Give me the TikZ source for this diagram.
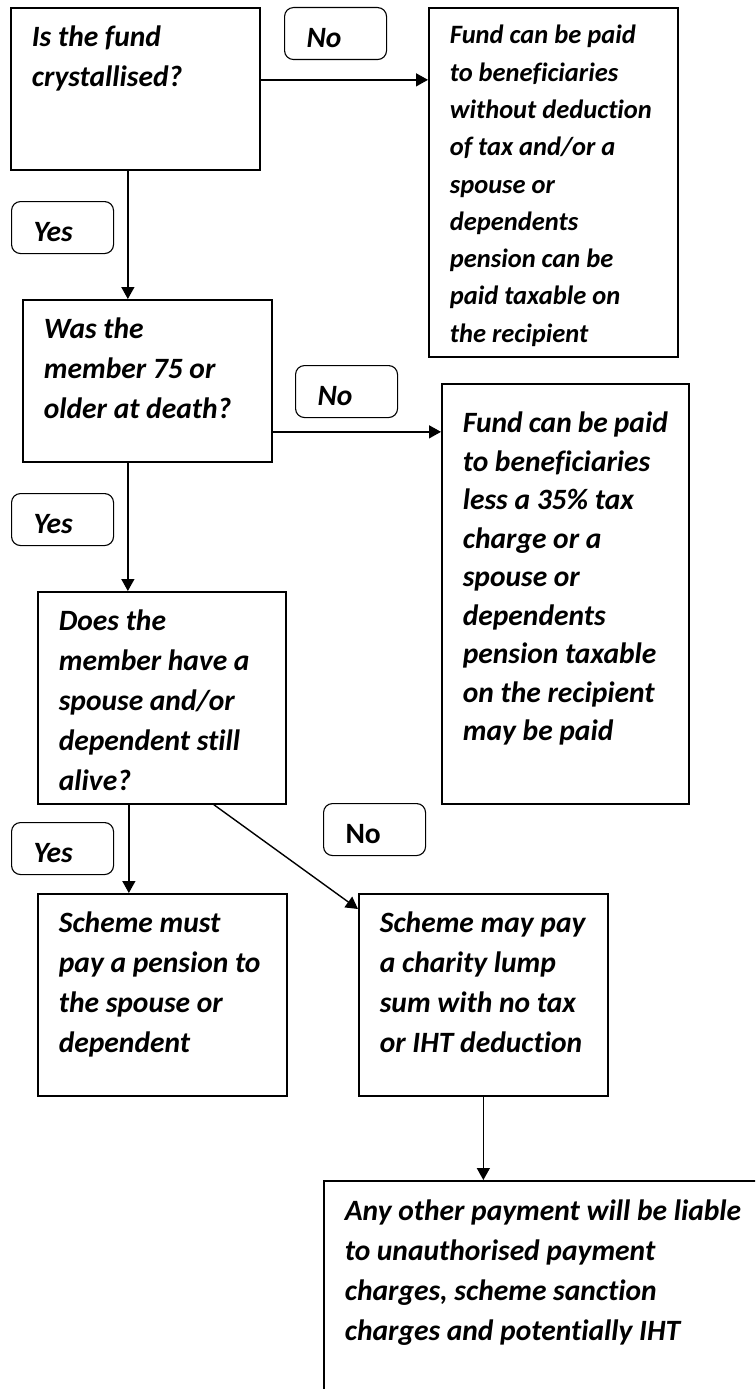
\documentclass[tikz,border=0pt]{standalone}
\usepackage{fontspec}
\setmainfont[Ligatures=NoCommon]{Carlito}
\usetikzlibrary{arrows.meta}

% top aligned text block: [first baseline]{width}{height}{text}
\newcommand{\cell}[4][39pt]{\parbox[t][#3][t]{#2}{\raggedright\rule{0pt}{#1}#4}}

\begin{document}
\begin{tikzpicture}[x=1pt,y=-1pt,>={Triangle[length=12pt,width=13pt]},line width=1.4pt]
		\tikzstyle{box}=[draw,line width=1.7pt,anchor=north west,inner xsep=21pt,inner ysep=0pt,font=\bfseries\itshape\fontsize{29.5}{40}\selectfont]
		\tikzstyle{tag}=[draw,line width=1.1pt,rounded corners=9pt,anchor=north west,minimum width=102pt,minimum height=52pt,text width=58pt,inner xsep=22pt,align=left,text height=30pt,text depth=2pt,font=\bfseries\itshape\fontsize{29.5}{32}\selectfont]

		\useasboundingbox (0,0) rectangle (755,1389);
		\clip (0,0) rectangle (755,1389);

		\node[box] (q1) at (10,7) {\cell{207pt}{162pt}{Is the fund\\crystallised?}};
		\node[box,font=\bfseries\itshape\fontsize{26.5}{37.3}\selectfont] (r1) at (428,7) {\cell[36pt]{207pt}{349pt}{Fund can be paid\\to beneficiaries\\without deduction\\of tax and/or a\\spouse or\\dependents\\pension can be\\paid taxable on\\the recipient}};
		\node[box] (q2) at (22,299) {\cell{207pt}{162pt}{Was the\\member 75 or\\older at death?}};
		\node[box,font=\bfseries\itshape\fontsize{29.5}{38.5}\selectfont] (r2) at (441,383) {\cell[49pt]{205pt}{420pt}{Fund can be paid\\to beneficiaries\\less a 35\% tax\\charge or a\\spouse or\\dependents\\pension taxable\\on the recipient\\may be paid}};
		\node[box] (q3) at (37,591) {\cell{206pt}{212pt}{Does the\\member have a\\spouse and/or\\dependent still\\alive?}};
		\node[box] (s1) at (37,893) {\cell{207pt}{202pt}{Scheme must\\pay a pension to\\the spouse or\\dependent}};
		\node[box] (s2) at (358,893) {\cell{207pt}{202pt}{Scheme may pay\\a charity lump\\sum with no tax\\or IHT deduction}};
		\node[box] (s3) at (323,1180) {\cell[40pt]{418pt}{260pt}{Any other payment will be liable\\to unauthorised payment\\charges, scheme sanction\\charges and potentially IHT}};

		\node[tag] (no1) at (284,7) {No};
		\node[tag] (yes1) at (11,201) {Yes};
		\node[tag] (no2) at (295,365) {No};
		\node[tag] (yes2) at (11,493) {Yes};
		\node[tag,font=\bfseries\fontsize{29.5}{32}\selectfont] (no3) at (323,803) {No};
		\node[tag] (yes3) at (11,822) {Yes};

		\draw[->] ([yshift=9pt]q1.east) -- ([yshift=9pt]q1.east -| r1.west);
		\draw[->] ([xshift=-7.5pt]q1.south) -- ([xshift=-7.5pt]q1.south |- q2.north);
		\draw[->] ([yshift=-51pt]q2.east) -- ([yshift=-51pt]q2.east -| r2.west);
		\draw[->] ([xshift=-19.5pt]q2.south) -- ([xshift=-19.5pt]q2.south |- q3.north);
		\draw[->] ([xshift=-33pt]q3.south) -- ([xshift=-33pt]q3.south |- s1.north);
		\draw[->] ([xshift=52pt]q3.south) -- ([yshift=-16pt]s2.north west);
		\draw[->] (s2.south) -- (s2.south |- s3.north);
	\end{tikzpicture}
\end{document}
